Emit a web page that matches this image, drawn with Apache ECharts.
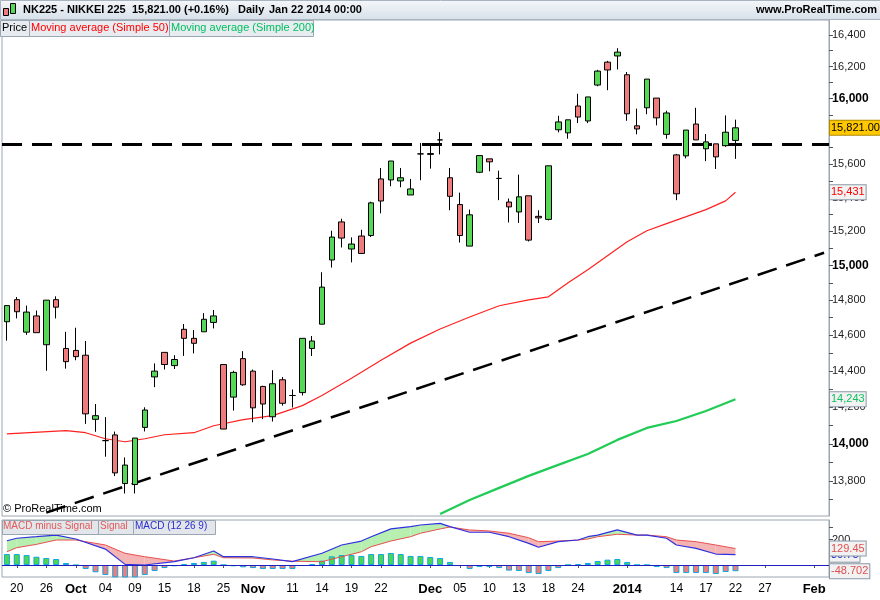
<!DOCTYPE html>
<html><head><meta charset="utf-8">
<script src="https://cdn.jsdelivr.net/npm/echarts@6/dist/echarts.min.js"></script>
<style>html,body{margin:0;padding:0;background:#fff}#c{width:880px;height:600px}</style>
</head><body><div id="c"></div>
<script>
const tickIndex = [1,4,7,10,13,16,19,22,25,29,32,35,38,43,46,49,52,55,58,63,68,71,74,77,82];
const tickLabels = ['20','26','Oct','04','09','15','18','25','Nov','11','14','19','22','Dec','05','10','13','18','24','2014','14','17','22','27','Feb'];
const boldLabels = ['Oct','Nov','Dec','2014','Feb'];
const slotCount = 84;

const opens = [14677,14803,14618,14710,14547,14803,14526,14515,14488,14133,14017,14048,13786,13781,14089,14367,14504,14430,14634,14583,14620,14673,14436,14255,14469,14399,14314,14147,14351,14264,14280,14526,14663,15032,15255,15096,15172,15175,15511,15505,15499,15415,15662,15659,15747,15518,15358,15113,15551,15632,15514,15373,15314,15410,15288,15270,15809,15790,15955,15863,16085,16228,16267,16149,15833,15944,16004,15781,15656,15650,15844,15693,15723,15712,15744];
const closes = [14769,14734,14732,14615,14800,14760,14452,14480,14163,14153,14017,13843,13885,14031,14184,14399,14436,14464,14583,14555,14691,14710,14080,14392,14323,14196,14217,14329,14221,14264,14583,14568,14875,15166,15160,15125,15070,15368,15379,15619,15518,15451,15662,15664,15747,15407,15175,15297,15652,15614,15514,15344,15404,15148,15279,15590,15857,15870,15887,16011,16172,16179,16291,15907,15814,16122,15882,15912,15422,15807,15747,15735,15644,15794,15821];
const lows = [14570,14696,14603,14615,14401,14696,14413,14460,14108,14065,13930,13826,13733,13733,14067,14310,14408,14411,14484,14498,14620,14639,14080,14181,14318,14117,14134,14121,14208,14198,14264,14484,14663,14988,15105,15018,15070,15166,15306,15467,15461,15415,15503,15573,15659,15324,15134,15113,15546,15557,15384,15252,15249,15140,15249,15264,15793,15754,15850,15850,16077,16053,16182,15864,15781,15904,15836,15754,15384,15635,15747,15618,15571,15705,15632];
const highs = [14769,14818,14769,14741,14800,14822,14620,14643,14568,14217,14145,14066,13926,14031,14199,14442,14504,14488,14664,14630,14726,14744,14436,14401,14511,14408,14318,14404,14366,14297,14583,14596,14961,15203,15274,15164,15209,15375,15577,15619,15577,15511,15728,15728,15794,15577,15429,15328,15652,15632,15561,15394,15537,15410,15324,15590,15895,15870,16031,16011,16180,16236,16316,16166,15939,16122,16004,15926,15662,15807,15944,15783,15723,15897,15871];

const ma50Idx = [0,6,8,10,12,14,16,19,21,24,27,30,32,35,38,41,44,47,50,53,55,57,59,61,63,65,67,69,71,73,74];
const ma50Val = [14054,14071,14060,14027,14011,14027,14049,14060,14098,14131,14153,14208,14264,14359,14460,14556,14636,14704,14768,14802,14819,14900,14975,15057,15138,15203,15245,15286,15328,15380,15431];
const ma200Idx = [44,47,50,53,56,59,62,65,68,71,74];
const ma200Val = [13625,13699,13763,13827,13886,13945,14021,14086,14124,14179,14243];

const resistance = 15720;
const trendIdx = [4,83];
const trendVal = [13632,15074];
const lastPrice = 15821;

const hist = [86,86,78,65,55,47,16,-2,-31,-57,-78,-97,-105,-97,-78,-47,-24,-10,8,16,24,34,0,-10,-18,-24,-31,-31,-31,-31,-8,8,34,68,78,78,71,86,86,94,86,71,71,63,55,24,-8,-31,-16,-16,-24,-44,-47,-63,-71,-47,-24,0,8,16,31,42,47,24,0,0,-16,-24,-63,-63,-63,-63,-71,-55,-48.702];
const macdIdx = [0,1,3,5,7,10,12,14,17,19,21,22,25,27,29,32,34,36,37,39,41,42,44,45,47,49,51,53,54,56,58,59,60,62,64,65,67,68,70,72,74];
const macdVal = [190,210,222,235,204,125,5,0,26,57,110,65,65,47,26,92,157,188,222,283,301,314,327,301,257,257,222,170,139,183,196,222,235,275,235,235,210,157,131,86,80.75];
const signalVal = [104,136,162,196,196,157,92,65,31,57,84,57,55,40,30,26,65,104,144,188,222,249,283,298,275,267,249,214,183,188,196,204,222,241,235,235,222,196,183,157,129.45];

const priceLabelValues = [13800,14000,14200,14400,14600,14800,15000,15200,15400,15600,15800,16000,16200,16400];
const priceTickValues = [13700,13800,13900,14000,14100,14200,14300,14400,14500,14600,14700,14800,14900,15000,15100,15200,15300,15400,15500,15600,15700,15800,15900,16000,16100,16200,16300,16400];
const boldPrices = [14000,15000,16000];

// ---- build ----
const categories = Array.from({length: slotCount}, () => '');
tickIndex.forEach((ix, k) => { categories[ix] = tickLabels[k]; });
const candles = opens.map((o, i) => [o, closes[i], lows[i], highs[i]]);
function sparse(idx, val) { const a = Array(slotCount).fill(null); idx.forEach((ix, k) => a[ix] = val[k]); return a; }
const ma50 = sparse(ma50Idx, ma50Val);
const ma200 = sparse(ma200Idx, ma200Val);
const trend = sparse(trendIdx, trendVal);
const macdLine = sparse(macdIdx, macdVal);
const sigLine = sparse(macdIdx, signalVal);
const fillData = macdIdx.map((ix, k) => [ix, macdVal[k], signalVal[k]]);
const FONT = '"Liberation Sans", Arial, sans-serif';
const lbl = (txt, color, bg, border) => ({show: true, position: 'end', distance: 1, formatter: txt, color: color, backgroundColor: bg, borderColor: border, borderWidth: 1, padding: [2, 1, 1, 1], fontFamily: FONT, fontSize: 11});
const hiddenLine = {color: 'rgba(0,0,0,0)', width: 0.01, type: 'solid'};

const chart = echarts.init(document.getElementById('c'));
chart.setOption({
  animation: false,
  backgroundColor: '#fff',
  grid: [
    {left: 2, right: 51, top: 20, bottom: 84, show: true, borderColor: '#9aa6b2', borderWidth: 1, backgroundColor: '#fff'},
    {left: 2, right: 51, top: 520, bottom: 23, show: true, borderColor: '#9aa6b2', borderWidth: 1, backgroundColor: '#fff'}
  ],
  xAxis: [
    {type: 'category', gridIndex: 0, data: categories, boundaryGap: true, axisLine: {show: false}, axisTick: {show: false}, axisLabel: {show: false}, splitLine: {show: false}},
    {type: 'category', gridIndex: 1, data: categories, boundaryGap: true,
      axisLine: {show: true, lineStyle: {color: '#9aa6b2'}},
      axisTick: {show: true, alignWithLabel: true, length: 3, interval: (i, v) => v !== '', lineStyle: {color: '#555'}},
      axisLabel: {show: true, interval: 0, margin: 6, fontFamily: FONT, fontSize: 12, color: '#000',
        formatter: v => boldLabels.includes(v) ? '{b|' + v + '}' : v,
        rich: {b: {fontWeight: 'bold', fontSize: 13, fontFamily: FONT, color: '#000'}}},
      splitLine: {show: false}}
  ],
  yAxis: [
    {type: 'log', gridIndex: 0, position: 'right', min: 13614, max: 16495, logBase: 10,
      axisLine: {show: true, lineStyle: {color: '#9aa6b2'}},
      axisTick: {show: true, length: 4, customValues: priceTickValues, lineStyle: {color: '#555'}},
      axisLabel: {show: true, margin: 3, customValues: priceLabelValues, fontFamily: FONT, fontSize: 11, color: '#222',
        formatter: v => { const r = Math.round(v); const s = r.toLocaleString('en-US'); return boldPrices.includes(r) ? '{b|' + s + '}' : s; },
        rich: {b: {fontWeight: 'bold', fontSize: 12, fontFamily: FONT, color: '#000'}}},
      splitLine: {show: false}},
    {type: 'value', gridIndex: 1, position: 'right', min: -94, max: 353,
      axisLine: {show: true, lineStyle: {color: '#9aa6b2'}},
      axisTick: {show: true, length: 4, customValues: [-90, 0, 100, 200, 300], lineStyle: {color: '#555'}},
      axisLabel: {show: true, margin: 3, customValues: [200], fontFamily: FONT, fontSize: 11, color: '#222'},
      splitLine: {show: false}}
  ],
  series: [
    {type: 'line', xAxisIndex: 0, yAxisIndex: 0, data: ma200, connectNulls: true, symbol: 'none', lineStyle: {color: '#1fcc55', width: 2.2}, z: 2,
      markLine: {silent: true, symbol: 'none', data: [{yAxis: 14243, lineStyle: hiddenLine, label: lbl('14,243', '#10c060', '#f2f2f2', '#8a98a6')}]}},
    {type: 'line', xAxisIndex: 0, yAxisIndex: 0, data: ma50, connectNulls: true, symbol: 'none', lineStyle: {color: '#ff2020', width: 1.2}, z: 2,
      markLine: {silent: true, symbol: 'none', data: [{yAxis: 15431, lineStyle: hiddenLine, label: lbl('15,431', '#ff0000', '#f2f2f2', '#8a98a6')}]}},
    {type: 'line', xAxisIndex: 0, yAxisIndex: 0, data: trend, connectNulls: true, symbol: 'none', lineStyle: {color: '#000', width: 2.5, type: [20, 10]}, z: 3},
    {type: 'candlestick', xAxisIndex: 0, yAxisIndex: 0, data: candles, barWidth: 6, z: 5,
      itemStyle: {color: '#55d855', color0: '#ef7c7c', borderColor: '#000', borderColor0: '#000', borderColorDoji: '#000', borderWidth: 1},
      markLine: {silent: true, symbol: 'none', z: 4, data: [
        {yAxis: resistance, lineStyle: {color: '#000', width: 3, type: [20, 10]}, label: {show: false}},
        {yAxis: lastPrice, lineStyle: hiddenLine, label: lbl('15,821.00', '#000', '#ffc800', '#b08800')}
      ]}},
    {type: 'custom', xAxisIndex: 1, yAxisIndex: 1, data: fillData, encode: {x: 0, y: [1, 2]}, z: 1,
      renderItem: (params, api) => {
        const k = params.dataIndex;
        if (k >= fillData.length - 1) return {type: 'group', children: []};
        const a = fillData[k], b = fillData[k + 1];
        const m1 = api.coord([a[0], a[1]]), s1 = api.coord([a[0], a[2]]);
        const m2 = api.coord([b[0], b[1]]), s2 = api.coord([b[0], b[2]]);
        const d1 = a[1] - a[2], d2 = b[1] - b[2];
        const col = d => d >= 0 ? '#b6efb0' : '#f4b4b4';
        const poly = (pts, d) => ({type: 'polygon', shape: {points: pts}, style: {fill: col(d), stroke: null}});
        if (d1 * d2 < 0) {
          const t = d1 / (d1 - d2);
          const c = [m1[0] + t * (m2[0] - m1[0]), m1[1] + t * (m2[1] - m1[1])];
          return {type: 'group', children: [poly([m1, c, s1], d1), poly([c, m2, s2], d2)]};
        }
        return {type: 'group', children: [poly([m1, m2, s2, s1], d1 + d2)]};
      }},
    {type: 'bar', xAxisIndex: 1, yAxisIndex: 1, data: hist, barWidth: 6, z: 2,
      itemStyle: {color: p => p.value >= 0 ? '#4fd64f' : '#ef7c7c', borderColor: p => p.value >= 0 ? '#1a8f1a' : '#b03030', borderWidth: 1},
      markLine: {silent: true, symbol: 'none', z: 6, data: [
        {yAxis: 0, lineStyle: {color: '#2020c0', width: 1.2, type: 'solid'}, label: {show: false}},
        {yAxis: -48.702, lineStyle: hiddenLine, label: lbl('-48.702', '#e05050', '#f2f2f2', '#8a98a6')}
      ]}},
    {type: 'line', xAxisIndex: 1, yAxisIndex: 1, data: sigLine, connectNulls: true, symbol: 'none', lineStyle: {color: '#e85050', width: 1}, z: 3,
      markLine: {silent: true, symbol: 'none', data: [
        {yAxis: 80.75, lineStyle: hiddenLine, label: lbl('80.75', '#2020d0', '#f2f2f2', '#8a98a6')},
        {yAxis: 129.45, lineStyle: hiddenLine, label: lbl('129.45', '#e05050', '#f2f2f2', '#8a98a6')}
      ]}},
    {type: 'line', xAxisIndex: 1, yAxisIndex: 1, data: macdLine, connectNulls: true, symbol: 'none', lineStyle: {color: '#3030e0', width: 1.2}, z: 4}
  ],
  graphic: [
    {type: 'rect', left: 0, top: 0, shape: {width: 880, height: 19}, style: {fill: new echarts.graphic.LinearGradient(0, 0, 0, 1, [{offset: 0, color: '#f4f7fa'}, {offset: 1, color: '#d6e0e9'}]), stroke: '#aab4be'}, z: 10},
    {type: 'rect', left: 3, top: 8, shape: {width: 5, height: 7}, style: {fill: '#ef7c7c', stroke: '#000', lineWidth: 1}, z: 11},
    {type: 'rect', left: 10, top: 3, shape: {width: 5, height: 10}, style: {fill: '#55d855', stroke: '#000', lineWidth: 1}, z: 11},
    {type: 'text', left: 23, top: 4, style: {text: 'NK225 - NIKKEI 225', font: 'bold 11px ' + FONT, fill: '#000'}, z: 11},
    {type: 'text', left: 132, top: 4, style: {text: '15,821.00 (+0.16%)', font: 'bold 11px ' + FONT, fill: '#000'}, z: 11},
    {type: 'text', left: 238, top: 4, style: {text: 'Daily', font: 'bold 11px ' + FONT, fill: '#000'}, z: 11},
    {type: 'text', left: 269, top: 4, style: {text: 'Jan 22 2014 00:00', font: 'bold 11px ' + FONT, fill: '#000'}, z: 11},
    {type: 'text', right: 3, top: 4, style: {text: 'www.ProRealTime.com', font: 'bold 11px ' + FONT, fill: '#000'}, z: 11},
    {type: 'rect', left: 0, top: 20, shape: {width: 29, height: 16}, style: {fill: '#e8ecf0', stroke: '#9aa6b2'}, z: 11},
    {type: 'text', left: 2, top: 22, style: {text: 'Price', font: '11px ' + FONT, fill: '#000'}, z: 12},
    {type: 'rect', left: 29, top: 20, shape: {width: 140, height: 16}, style: {fill: '#e8ecf0', stroke: '#9aa6b2'}, z: 11},
    {type: 'text', left: 31, top: 22, style: {text: 'Moving average (Simple 50)', font: '11px ' + FONT, fill: '#ff0000'}, z: 12},
    {type: 'rect', left: 169, top: 20, shape: {width: 144, height: 16}, style: {fill: '#e8ecf0', stroke: '#9aa6b2'}, z: 11},
    {type: 'text', left: 171, top: 22, style: {text: 'Moving average (Simple 200)', font: '11px ' + FONT, fill: '#00c060'}, z: 12},
    {type: 'text', left: 3, top: 503, style: {text: '© ProRealTime.com', font: '11px ' + FONT, fill: '#000'}, z: 12},
    {type: 'rect', left: 2, top: 520, shape: {width: 96, height: 14}, style: {fill: '#e2e6ea', stroke: '#9aa6b2'}, z: 11},
    {type: 'text', left: 3, top: 521, style: {text: 'MACD minus Signal', font: '10px ' + FONT, fill: '#e05a5a'}, z: 12},
    {type: 'rect', left: 98, top: 520, shape: {width: 35, height: 14}, style: {fill: '#e2e6ea', stroke: '#9aa6b2'}, z: 11},
    {type: 'text', left: 100, top: 521, style: {text: 'Signal', font: '10px ' + FONT, fill: '#e05a5a'}, z: 12},
    {type: 'rect', left: 133, top: 520, shape: {width: 82, height: 14}, style: {fill: '#e2e6ea', stroke: '#9aa6b2'}, z: 11},
    {type: 'text', left: 135, top: 521, style: {text: 'MACD (12 26 9)', font: '10px ' + FONT, fill: '#2a2ad0'}, z: 12}
  ]
});
</script></body></html>
